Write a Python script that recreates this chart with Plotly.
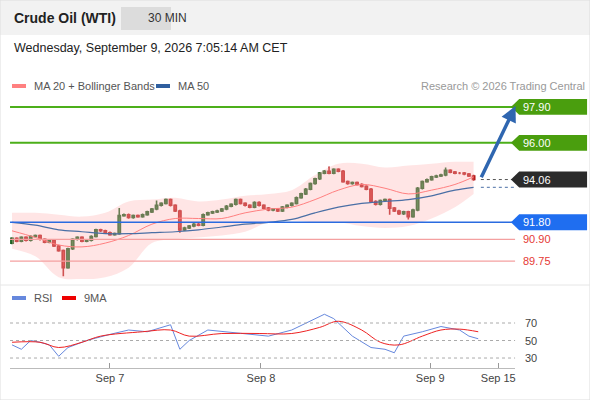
import plotly.graph_objects as go

# 30 min candles, index 0..99
closes = [90.95, 90.80, 91.00, 90.85, 91.05, 91.10, 90.90, 90.75, 90.85,
          90.55, 90.30, 89.40, 90.40,
          90.90, 91.00, 90.80, 90.85, 91.05,
          91.40, 91.35, 91.25,
          91.15, 91.20, 92.15,
          92.20, 92.05, 92.15, 92.10, 92.20, 92.35, 92.50,
          92.70, 92.80, 93.00,
          92.70, 92.40, 91.40,
          91.50, 91.60, 91.70, 91.65,
          92.20, 92.30, 92.35, 92.40, 92.50, 92.65, 92.75, 93.00,
          92.80, 92.70, 92.60, 92.85, 92.70, 92.55,
          92.45, 92.50, 92.40, 92.60, 92.70, 92.80,
          93.10, 93.30, 93.55, 93.85, 94.10, 94.40,
          94.50, 94.40, 94.60, 94.50, 93.95,
          93.85, 93.90, 93.80, 93.70, 93.55,
          92.90, 92.75, 92.95, 93.00, 92.55,
          92.40, 92.25, 92.35, 92.10, 92.45,
          93.60, 93.95, 94.05, 94.20, 94.25,
          94.30, 94.55, 94.45, 94.40, 94.40, 94.35, 94.25, 94.06]
first_open = 90.70
big_wicks_low = {11: 88.95, 36: 91.25, 81: 92.20, 85: 91.95}
big_wicks_high = {23: 92.55, 31: 92.95, 68: 94.75, 93: 94.70}

band_x = [0, 5, 10, 15, 20, 25, 30, 35, 40, 45, 50, 55, 60, 65, 70, 75, 80, 85, 90, 95, 99]
band_up = [92.3, 92.3, 92.2, 92.1, 92.3, 92.9, 93.0, 93.1, 92.9, 93.0, 93.2,
           93.3, 93.5, 94.3, 94.9, 94.9, 94.7, 94.8, 94.9, 95.0, 95.0]
band_lo = [90.4, 90.0, 88.9, 88.8, 88.9, 89.4, 90.7, 90.9, 91.0, 91.1, 91.3,
           91.8, 91.9, 91.8, 91.8, 91.6, 91.5, 91.6, 92.0, 92.6, 93.3]
ma20 = [91.35, 91.0, 90.6, 90.5, 90.7, 91.1, 91.7, 92.0, 92.0, 92.0, 92.3,
        92.5, 92.6, 93.0, 93.5, 93.8, 93.6, 93.3, 93.5, 93.8, 94.2]
ma50 = [91.8, 91.65, 91.4, 91.3, 91.2, 91.2, 91.25, 91.3, 91.4, 91.55, 91.7,
        91.8, 91.95, 92.3, 92.6, 92.8, 92.9, 93.0, 93.2, 93.5, 93.65]

rsi_x = [0, 2, 4, 6, 8, 10, 12, 16, 21, 25, 29, 34, 36, 38, 42, 49, 55, 60,
         64, 67, 69, 73, 77, 80, 82, 84, 88, 92, 96, 98, 100]
rsi = [45, 40, 50, 48, 45, 32, 42, 50, 57, 62, 60, 68, 40, 50, 62, 58, 55,
       62, 72, 80, 75, 55, 42, 40, 36, 55, 60, 66, 62, 55, 52]
ma9_x = [0, 6, 10, 15, 19, 28, 34, 38, 45, 53, 60, 66, 70, 75, 79, 83, 88, 92, 96, 100]
ma9 = [48, 48, 42, 48, 55, 60, 62, 55, 58, 58, 58, 65, 72, 62, 48, 45, 55, 62, 63, 60]

levels = [97.90, 96.00, 94.06, 91.80, 90.90, 89.75]
tick_vals = [21, 53.4, 89.7, 104.3]
tick_text = ["Sep 7", "Sep 8", "Sep 9", "Sep 15"]

opens = [first_open] + closes[:-1]
idx = list(range(len(closes)))
highs = [big_wicks_high.get(i, max(o, c) + 0.06) for i, (o, c) in enumerate(zip(opens, closes))]
lows = [big_wicks_low.get(i, min(o, c) - 0.06) for i, (o, c) in enumerate(zip(opens, closes))]

fig = go.Figure()
fig.add_trace(go.Scatter(x=band_x, y=band_up, mode="lines", line=dict(width=0, shape="spline"),
                         hoverinfo="skip"))
fig.add_trace(go.Scatter(x=band_x, y=band_lo, mode="lines", line=dict(width=0, shape="spline"),
                         fill="tonexty", fillcolor="rgba(255,180,180,0.35)", hoverinfo="skip"))
fig.add_trace(go.Scatter(x=band_x, y=ma20, mode="lines",
                         line=dict(color="#ff8080", width=1, shape="spline")))
fig.add_trace(go.Scatter(x=band_x, y=ma50, mode="lines",
                         line=dict(color="#4a6fa5", width=1.2, shape="spline")))
fig.add_trace(go.Candlestick(x=idx, open=opens, high=highs, low=lows, close=closes,
                             increasing=dict(line=dict(color="#1b5e20", width=1.6), fillcolor="#2e8b3a"),
                             decreasing=dict(line=dict(color="#b71c1c", width=1.6), fillcolor="#e53935"),
                             whiskerwidth=0))
fig.add_trace(go.Scatter(x=rsi_x, y=rsi, mode="lines", xaxis="x2", yaxis="y2",
                         line=dict(color="#6688dd", width=1)))
fig.add_trace(go.Scatter(x=ma9_x, y=ma9, mode="lines", xaxis="x2", yaxis="y2",
                         line=dict(color="#ee2222", width=1, shape="spline")))

xr = [-0.43, 107.9]
fig.update_layout(
    width=590, height=400, margin=dict(l=0, r=0, t=0, b=0),
    paper_bgcolor="white", plot_bgcolor="white", showlegend=False,
    font=dict(family="Liberation Sans, Arial", size=11, color="#333"),
    xaxis=dict(domain=[0.017, 0.873], range=xr, visible=False, rangeslider=dict(visible=False)),
    yaxis=dict(domain=[0.2925, 0.7625], range=[88.59, 98.53], visible=False),
    xaxis2=dict(domain=[0.017, 0.873], range=xr, anchor="y2", showgrid=False,
                tickvals=tick_vals, ticktext=tick_text, ticks="inside", ticklen=5,
                tickcolor="#999", showline=True, linecolor="#bbb", tickfont=dict(size=11, color="#444")),
    yaxis2=dict(domain=[0.08, 0.275], range=[18.6, 107.7], visible=False),
)

def hline(y, color, width=1.5, dash="solid", x0=0.017, x1=0.873, yref="y"):
    fig.add_shape(type="line", xref="paper", yref=yref, x0=x0, x1=x1, y0=y, y1=y,
                  line=dict(color=color, width=width, dash=dash))

hline(levels[0], "#4caf1a", 2)
hline(levels[1], "#4caf1a", 2)
hline(levels[3], "#2a6be0", 1.5)
hline(levels[4], "#f4a0a0", 1.3)
hline(levels[5], "#f4a0a0", 1.3)
hline(levels[2], "#555", 1, "dot", 0.815, 0.873)
hline(ma50[-1], "#4a6fa5", 1, "dot", 0.815, 0.873)
for lv in [70, 50, 30]:
    hline(lv, "#aaa", 1, "dot", yref="y2")
    fig.add_annotation(xref="paper", yref="y2", x=0.886, y=lv, text=str(lv), showarrow=False,
                       xanchor="left", yanchor="middle", font=dict(size=11, color="#444"))

# price tags on right
tags = [(levels[0], "#4a9e0e", "white"), (levels[1], "#4a9e0e", "white"),
        (levels[2], "#2b2b2b", "white"), (levels[3], "#1f6ef0", "white")]
for y, bg, fc in tags:
    h = 0.42
    fig.add_shape(type="path", xref="paper", yref="y", fillcolor=bg, line=dict(width=0),
                  path=f"M 0.866 {y} L 0.88 {y + h} L 0.995 {y + h} L 0.995 {y - h} L 0.88 {y - h} Z")
    fig.add_annotation(xref="paper", yref="y", x=0.883, y=y, text=f"{y:.2f}", showarrow=False,
                       xanchor="left", yanchor="middle", font=dict(size=11, color=fc))
for y in levels[4:]:
    fig.add_annotation(xref="paper", yref="y", x=0.883, y=y, text=f"{y:.2f}", showarrow=False,
                       xanchor="left", yanchor="middle", font=dict(size=11, color="#e53935"))

# forecast arrow
fig.add_annotation(x=108.0, y=97.95, ax=100.5, ay=94.1, xref="x", yref="y", axref="x", ayref="y",
                   text="", showarrow=True, arrowhead=2, arrowsize=0.9, arrowwidth=3.5,
                   arrowcolor="#2f66b0")

# header
fig.add_shape(type="rect", xref="paper", yref="paper", x0=0, x1=1, y0=0.9125, y1=1,
              fillcolor="#f2f2f2", line=dict(width=0), layer="below")
fig.add_shape(type="rect", xref="paper", yref="paper", x0=121 / 590, x1=171 / 590,
              y0=1 - 30 / 400, y1=1 - 7 / 400, fillcolor="#dcdcdc", line=dict(width=0))
fig.add_annotation(xref="paper", yref="paper", x=12 / 590, y=1 - 18 / 400, text="<b>Crude Oil (WTI)</b>",
                   showarrow=False, xanchor="left", yanchor="middle", font=dict(size=14, color="#222"))
fig.add_annotation(xref="paper", yref="paper", x=146 / 590, y=1 - 18 / 400, text="30 MIN",
                   showarrow=False, yanchor="middle", font=dict(size=12, color="#333"))
fig.add_annotation(xref="paper", yref="paper", x=12 / 590, y=1 - 48 / 400,
                   text="Wednesday, September 9, 2026 7:05:14 AM CET",
                   showarrow=False, xanchor="left", yanchor="middle", font=dict(size=12.5, color="#222"))
fig.add_shape(type="rect", xref="paper", yref="paper", x0=0, x1=1, y0=0, y1=1,
              line=dict(color="#ddd", width=1))
fig.add_shape(type="line", xref="paper", yref="paper", x0=0, x1=1, y0=1 - 285 / 400, y1=1 - 285 / 400,
              line=dict(color="#e6e6e6", width=1))

# legends
def legend_item(px, py, color, label):
    fig.add_shape(type="line", xref="paper", yref="paper", x0=px / 590, x1=(px + 14) / 590,
                  y0=1 - py / 400, y1=1 - py / 400, line=dict(color=color, width=4))
    fig.add_annotation(xref="paper", yref="paper", x=(px + 20) / 590, y=1 - py / 400, text=label,
                       showarrow=False, xanchor="left", yanchor="middle", font=dict(size=11, color="#555"))

legend_item(12, 86, "#ff8080", "MA 20 + Bollinger Bands")
legend_item(156, 86, "#2f5f9f", "MA 50")
legend_item(12, 298, "#6688dd", "RSI")
legend_item(62, 298, "#ee0000", "9MA")
fig.add_annotation(xref="paper", yref="paper", x=587 / 590, y=1 - 86 / 400,
                   text="Research © 2026 Trading Central", showarrow=False, xanchor="right",
                   yanchor="middle", font=dict(size=11, color="#999"))

fig.write_html("out.html", config={"displayModeBar": False},
               post_script="document.body.style.margin='0';")
